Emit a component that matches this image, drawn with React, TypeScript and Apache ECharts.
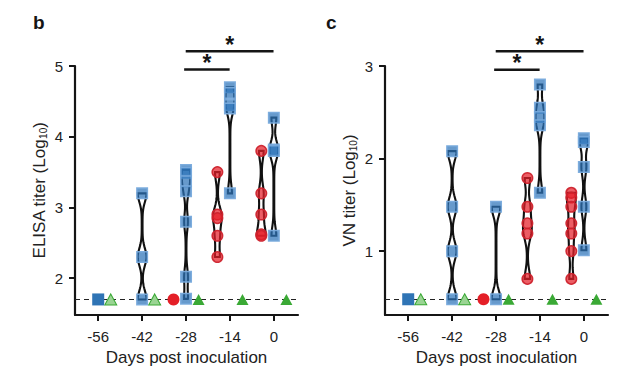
import React, { useEffect, useRef } from 'react';
import * as echarts from 'echarts';

// ---------- data ----------
const tickDays = [-56, -42, -28, -14, 0];
const blueDays = [-56, -42, -28, -14, 0];
const redDays = [-32, -18, -4];
const greenLightDays = [-52, -38];
const greenDarkDays = [-24, -10, 4];

const elisaBlue = [
  [1.7],
  [3.2, 2.3, 1.7],
  [3.53, 3.49, 3.37, 3.23, 2.8, 2.02, 1.71],
  [4.7, 4.62, 4.45, 4.4, 3.2],
  [4.27, 3.82, 3.8, 2.6],
];
const elisaRed = [
  [1.7],
  [3.5, 2.9, 2.85, 2.6, 2.3],
  [3.8, 3.2, 2.9, 2.62, 2.6],
];
const elisaLOD = 1.7;
const elisaTicks = [2, 3, 4, 5];
const elisaRange = [1.48, 5];

const vnBlue = [
  [0.48],
  [2.08, 1.48, 1.0, 0.48],
  [1.48, 0.48],
  [2.8, 2.55, 2.45, 2.36, 1.63],
  [2.22, 2.18, 1.91, 1.48, 1.01],
];
const vnRed = [
  [0.48],
  [1.79, 1.48, 1.3, 1.19, 0.7],
  [1.63, 1.58, 1.48, 1.3, 1.19, 1.0, 0.7],
];
const vnLOD = 0.48;
const vnTicks = [1, 2, 3];
const vnRange = [0.31, 3];

const xRange = [-63.4, 7.7];

// significance brackets: [fromDay, toDay]
const sigFrom = [-28.6, -28.1];
const sigTo = [-14.1, -0.1];
const elisaSigY = [4.95, 5.21];
const vnSigY = [2.96, 3.16];

const FONT = '"Liberation Sans", Arial, sans-serif';
const BLUE_FILL = 'rgba(45,115,185,0.72)';
const BLUE_BORDER = 'rgba(120,170,220,0.95)';
const RED_FILL = 'rgba(228,30,40,0.72)';
const RED_BORDER = 'rgba(205,35,45,0.95)';
const GREEN = '#3aa935';
const GREEN_LIGHT = '#9ad493';

function violin(gi: number, day: number, vals: number[], h: number) {
  return {
    type: 'custom',
    xAxisIndex: gi,
    yAxisIndex: gi,
    z: 2,
    silent: true,
    data: vals.map((v) => [day, v]),
    renderItem: (params: any, api: any) => {
      if (params.dataIndex !== 0) return { type: 'group', children: [] };
      const lo = Math.min(...vals);
      const hi = Math.max(...vals);
      const n = 60;
      const ys: number[] = [];
      const dens: number[] = [];
      for (let i = 0; i <= n; i++) {
        const y = lo + ((hi - lo) * i) / n;
        let d = 0;
        for (const v of vals) d += Math.exp(-0.5 * ((y - v) / h) ** 2);
        ys.push(y);
        dens.push(d);
      }
      const maxD = Math.max(...dens);
      const right: number[][] = [];
      const left: number[][] = [];
      ys.forEach((y, i) => {
        const p = api.coord([day, y]);
        const w = 0.4 + 4 * (dens[i] / maxD);
        right.push([p[0] + w, p[1]]);
        left.push([p[0] - w, p[1]]);
      });
      return {
        type: 'polygon',
        shape: { points: right.concat(left.reverse()) },
        style: { fill: '#fff', stroke: '#111', lineWidth: 2.1 },
      };
    },
  };
}

function panelSeries(gi: number, blue: number[][], red: number[][], lod: number, h: number) {
  const s: any[] = [];
  blue.forEach((vals, i) => {
    if (vals.length > 1) s.push(violin(gi, blueDays[i], vals, h));
  });
  red.forEach((vals, i) => {
    if (vals.length > 1) s.push(violin(gi, redDays[i], vals, h));
  });
  const blueSingle: number[][] = [];
  const bluePts: number[][] = [];
  blue.forEach((vals, i) => vals.forEach((v) => (vals.length > 1 ? bluePts : blueSingle).push([blueDays[i], v])));
  const redSingle: number[][] = [];
  const redPts: number[][] = [];
  red.forEach((vals, i) => vals.forEach((v) => (vals.length > 1 ? redPts : redSingle).push([redDays[i], v])));
  const common = { type: 'scatter', xAxisIndex: gi, yAxisIndex: gi, silent: true, z: 3 };
  s.push({
    ...common,
    symbol: 'rect',
    symbolSize: 10.5,
    data: bluePts,
    itemStyle: { color: BLUE_FILL, borderColor: BLUE_BORDER, borderWidth: 1.5, opacity: 1 },
  });
  s.push({
    ...common,
    symbol: 'rect',
    symbolSize: 12,
    data: blueSingle,
    itemStyle: { color: '#2f74b5', opacity: 1 },
  });
  s.push({
    ...common,
    symbol: 'circle',
    symbolSize: 10.5,
    data: redPts,
    itemStyle: { color: RED_FILL, borderColor: RED_BORDER, borderWidth: 1.5, opacity: 1 },
  });
  s.push({
    ...common,
    symbol: 'circle',
    symbolSize: 12,
    data: redSingle,
    itemStyle: { color: '#e41f27', opacity: 1 },
  });
  s.push({
    ...common,
    symbol: 'triangle',
    symbolSize: [12, 11],
    data: greenLightDays.map((d) => [d, lod]),
    itemStyle: { color: GREEN_LIGHT, borderColor: GREEN, borderWidth: 1, opacity: 1 },
  });
  s.push({
    ...common,
    symbol: 'triangle',
    symbolSize: [12, 11],
    data: greenDarkDays.map((d) => [d, lod]),
    itemStyle: { color: GREEN, opacity: 1 },
    markLine: {
      silent: true,
      symbol: 'none',
      z: 1,
      label: { show: false },
      lineStyle: { type: [5, 4], color: '#222', width: 1.2 },
      data: [{ yAxis: lod }],
    },
  });
  return s;
}

function xAxis(gi: number) {
  return {
    type: 'value',
    gridIndex: gi,
    min: xRange[0],
    max: xRange[1],
    name: 'Days post inoculation',
    nameLocation: 'middle',
    nameGap: 34,
    nameTextStyle: { fontSize: 17, color: '#222', fontFamily: FONT },
    splitLine: { show: false },
    axisLine: { onZero: false, lineStyle: { color: '#151515', width: 2.2 } },
    axisTick: { customValues: tickDays, length: 6, lineStyle: { color: '#151515', width: 2 } },
    axisLabel: { customValues: tickDays, margin: 14, fontSize: 15, color: '#222', fontFamily: FONT },
  };
}

function yAxis(gi: number, range: number[], ticks: number[], name: string) {
  return {
    type: 'value',
    gridIndex: gi,
    min: range[0],
    max: range[1],
    name,
    nameLocation: 'middle',
    nameGap: 27,
    nameTextStyle: {
      fontSize: 17,
      color: '#222',
      fontFamily: FONT,
      rich: { s: { fontSize: 10, color: '#222', fontFamily: FONT, verticalAlign: 'bottom', lineHeight: 10, padding: [8, 0, 0, 0] } },
    },
    splitLine: { show: false },
    axisLine: { onZero: false, lineStyle: { color: '#151515', width: 2.2 } },
    axisTick: { customValues: ticks, length: 6, lineStyle: { color: '#151515', width: 2 } },
    axisLabel: { customValues: ticks, margin: 12, fontSize: 15, color: '#222', fontFamily: FONT },
  };
}

export default function App() {
  const ref = useRef<HTMLDivElement>(null);
  useEffect(() => {
    if (!ref.current) return;
    const chart = echarts.init(ref.current, null, { renderer: 'svg' });
    chart.setOption({
      animation: false,
      backgroundColor: '#fff',
      grid: [
        { left: 75, top: 66, width: 223, height: 249 },
        { left: 385, top: 66, width: 223, height: 249 },
      ],
      xAxis: [xAxis(0), xAxis(1)],
      yAxis: [
        yAxis(0, elisaRange, elisaTicks, 'ELISA titer (Log{s|10})'),
        yAxis(1, vnRange, vnTicks, 'VN titer (Log{s|10})'),
      ],
      series: [...panelSeries(0, elisaBlue, elisaRed, elisaLOD, 0.12), ...panelSeries(1, vnBlue, vnRed, vnLOD, 0.095)],
    });

    const graphics: any[] = [];
    const sigSets = [elisaSigY, vnSigY];
    sigSets.forEach((ys, gi) => {
      ys.forEach((y, k) => {
        const a = chart.convertToPixel({ xAxisIndex: gi, yAxisIndex: gi } as any, [sigFrom[k], y]) as number[];
        const b = chart.convertToPixel({ xAxisIndex: gi, yAxisIndex: gi } as any, [sigTo[k], y]) as number[];
        graphics.push({
          type: 'line',
          shape: { x1: a[0], y1: a[1], x2: b[0], y2: b[1] },
          style: { stroke: '#151515', lineWidth: 2.5 },
          silent: true,
        });
        graphics.push({
          type: 'text',
          x: (a[0] + b[0]) / 2,
          y: a[1] + 5,
          style: { text: '*', fontSize: 23, fontWeight: 'bold', fontFamily: FONT, fill: '#151515', align: 'center', verticalAlign: 'bottom' },
          silent: true,
        });
      });
    });
    graphics.push({
      type: 'text', x: 33, y: 13,
      style: { text: 'b', fontSize: 19, fontWeight: 'bold', fontFamily: FONT, fill: '#151515', align: 'left', verticalAlign: 'top' },
    });
    graphics.push({
      type: 'text', x: 326, y: 13,
      style: { text: 'c', fontSize: 19, fontWeight: 'bold', fontFamily: FONT, fill: '#151515', align: 'left', verticalAlign: 'top' },
    });
    chart.setOption({ graphic: graphics });
    return () => chart.dispose();
  }, []);
  return <div ref={ref} style={{ width: 631, height: 382, position: 'absolute', left: 0, top: 0 }} />;
}
